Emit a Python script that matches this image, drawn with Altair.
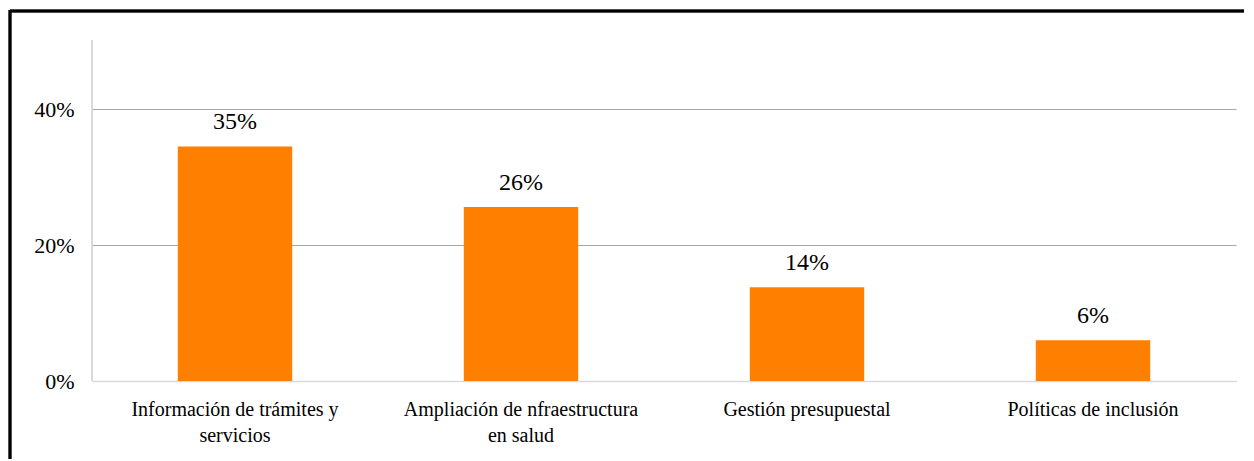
import altair as alt
import pandas as pd

categories = [
    "Información de trámites y servicios",
    "Ampliación de nfraestructura en salud",
    "Gestión presupuestal",
    "Políticas de inclusión",
]
label_lines = [
    ["Información de trámites y", "servicios"],
    ["Ampliación de nfraestructura", "en salud"],
    ["Gestión presupuestal"],
    ["Políticas de inclusión"],
]
values = [0.345, 0.256, 0.138, 0.06]
value_labels = ["35%", "26%", "14%", "6%"]

df = pd.DataFrame({"cat": categories, "val": values, "lab": value_labels})

label_expr = "{" + ", ".join(
    f'"{c}": {label_lines[i]}' for i, c in enumerate(categories)
) + "}[datum.label]"

FONT = "Liberation Serif, serif"

x = alt.X(
    "cat:N",
    sort=categories,
    scale=alt.Scale(paddingInner=0.6, paddingOuter=0.3),
    axis=alt.Axis(
        title=None,
        labelAngle=0,
        labelExpr=label_expr,
        labelFont=FONT,
        labelFontSize=20,
        labelColor="black",
        labelPadding=18,
        labelLineHeight=26,
        labelLimit=1000,
        ticks=False,
        domainColor="#d9d9d9",
        domainWidth=1.5,
        grid=False,
    ),
)
y = alt.Y(
    "val:Q",
    scale=alt.Scale(domain=[0, 0.5], nice=False),
    axis=alt.Axis(
        title=None,
        values=[0, 0.2, 0.4],
        format=".0%",
        labelFont=FONT,
        labelFontSize=22,
        labelColor="black",
        labelPadding=18,
        ticks=False,
        domain=False,
        grid=True,
        gridColor="#a6a6a6",
        gridWidth=1,
    ),
)

bars = alt.Chart(df).mark_bar(color="#ff8000").encode(x=x, y=y)
text = alt.Chart(df).mark_text(
    font=FONT, fontSize=24, color="black", dy=-17, baseline="alphabetic"
).encode(x=alt.X("cat:N", sort=categories), y="val:Q", text="lab:N")

yaxis_line = alt.Chart(df).mark_rule(color="#d9d9d9", strokeWidth=1.5).encode(
    x=alt.value(0), y=alt.value(-1), y2=alt.value(340)
)
border_top = alt.Chart(df).mark_rule(color="black", strokeWidth=2.5).encode(
    x=alt.value(-82), x2=alt.value(1160), y=alt.value(-30)
)
border_left = alt.Chart(df).mark_rule(color="black", strokeWidth=2.5).encode(
    x=alt.value(-82), y=alt.value(-31), y2=alt.value(430)
)

chart = (
    alt.layer(yaxis_line, bars, text, border_top, border_left)
    .properties(
        width=1144,
        height=340,
        autosize=alt.AutoSizeParams(type="none"),
        padding={"left": 84, "top": 33, "right": 8, "bottom": 78},
    )
    .configure(background="white", view=alt.ViewConfig(stroke="transparent"))
)

chart.save("out.html", embed_options={"renderer": "svg", "actions": False})
